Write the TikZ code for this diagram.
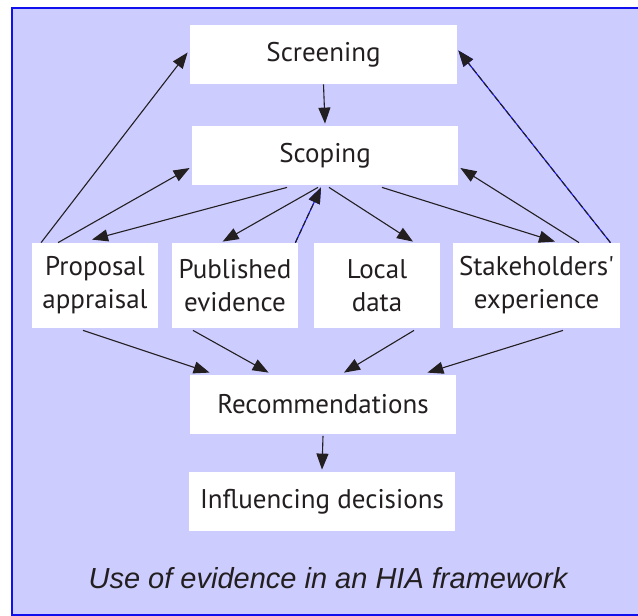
\documentclass[tikz,border=0pt]{standalone}
\usepackage{fontspec}
\setmainfont{PT Sans}
\newfontfamily\capfont{Liberation Sans}
\usetikzlibrary{arrows.meta,calc}
\definecolor{lavender}{HTML}{CCCCFF}
\definecolor{frameblue}{HTML}{1010EE}
\definecolor{ink}{HTML}{231F20}

\begin{document}
\begin{tikzpicture}[x=0.5pt, y=-0.5pt,
	stagebox/.style={fill=white, inner sep=0pt, minimum height=29.5pt,
		font=\fontsize{13.5}{16.5}\selectfont, text=ink, align=center},
	flow/.style={draw=ink, line width=0.55pt,
		-{Triangle[length=8pt, width=6pt]}},
	blueflow/.style={flow, draw=frameblue, postaction={draw=ink, dash pattern=on 3pt off 1.5pt}}]
\useasboundingbox (0,0) rectangle (638,616);
\clip (0,0) rectangle (638,616);
\fill[lavender] (12,8) rectangle (660,615);
\draw[frameblue, line width=1.1pt] (660,8) -- (12,8) -- (12,615) -- (660,615);

\node[stagebox, minimum width=133.5pt] (scr) at (323.5,54.5) {Screening};
\node[stagebox, minimum width=133pt] (scp) at (325,155.5) {Scoping};
\node[stagebox, minimum width=63pt, minimum height=42.5pt] (prop) at (95,285.5) {Proposal\\appraisal};
\node[stagebox, minimum width=63pt, minimum height=42.5pt] (pub) at (235,285.5) {Published\\evidence};
\node[stagebox, minimum width=63pt, minimum height=42.5pt] (loc) at (377,285.5) {Local\\data};
\node[stagebox, minimum width=83.5pt, minimum height=42.5pt] (stk) at (536.5,285.5) {Stakeholders\textquotesingle\\experience};
\node[stagebox, minimum width=133pt] (rec) at (323,404) {Recommendations};
\node[stagebox, minimum width=133pt] (inf) at (322,501.5) {Influencing decisions};
\node[font=\capfont\itshape\fontsize{14.5}{17}\selectfont, text=ink] (cap) at (328,578)
	{Use of evidence in an HIA framework};

% top half
\draw[flow] (scr.south) -- ($(scp.north)+(0,-2)$);
\draw[flow] ($(prop.north west)+(9.5,0)$) -- ($(scr.west)+(-2,-2)$);
\draw[flow] ($(prop.north west)+(26.5,0)$) -- ($(scp.west)+(-2,12.5)$);
\draw[flow] ($(scp.south)+(-38,2)$) -- ($(prop.north)+(-3,-3)$);
\draw[flow] ($(scp.south)+(-7,2)$) -- ($(pub.north west)+(51,-1)$);
\draw[blueflow] ($(pub.north east)+(-3,0)$) -- ($(scp.south)+(-4,2)$);
\draw[flow] ($(scp.south)+(4,2)$) -- ($(loc.north)+(36,-1)$);
\draw[flow] ($(scp.south)+(57,2)$) -- ($(stk.north)+(18.5,-1)$);
\draw[flow] ($(stk.north)+(42.5,0)$) -- ($(scp.east)+(2,12.5)$);
\draw[blueflow] ($(stk.north east)+(-10,0)$) -- ($(scr.east)+(1,-4)$);

% bottom half
\draw[flow] ($(prop.south)+(-12,2)$) -- ($(rec.north west)+(20,-1.5)$);
\draw[flow] ($(pub.south)+(-42,2)$) -- ($(rec.north west)+(79,-1.5)$);
\draw[flow] ($(loc.south)+(37,2)$) -- ($(rec.north)+(21,-1.5)$);
\draw[flow] ($(stk.south)+(26.5,2)$) -- ($(rec.north east)+(-29,-1.5)$);
\draw[flow] ($(rec.south)+(0,2)$) -- ($(inf.north)+(0,-2)$);
\end{tikzpicture}
\end{document}
